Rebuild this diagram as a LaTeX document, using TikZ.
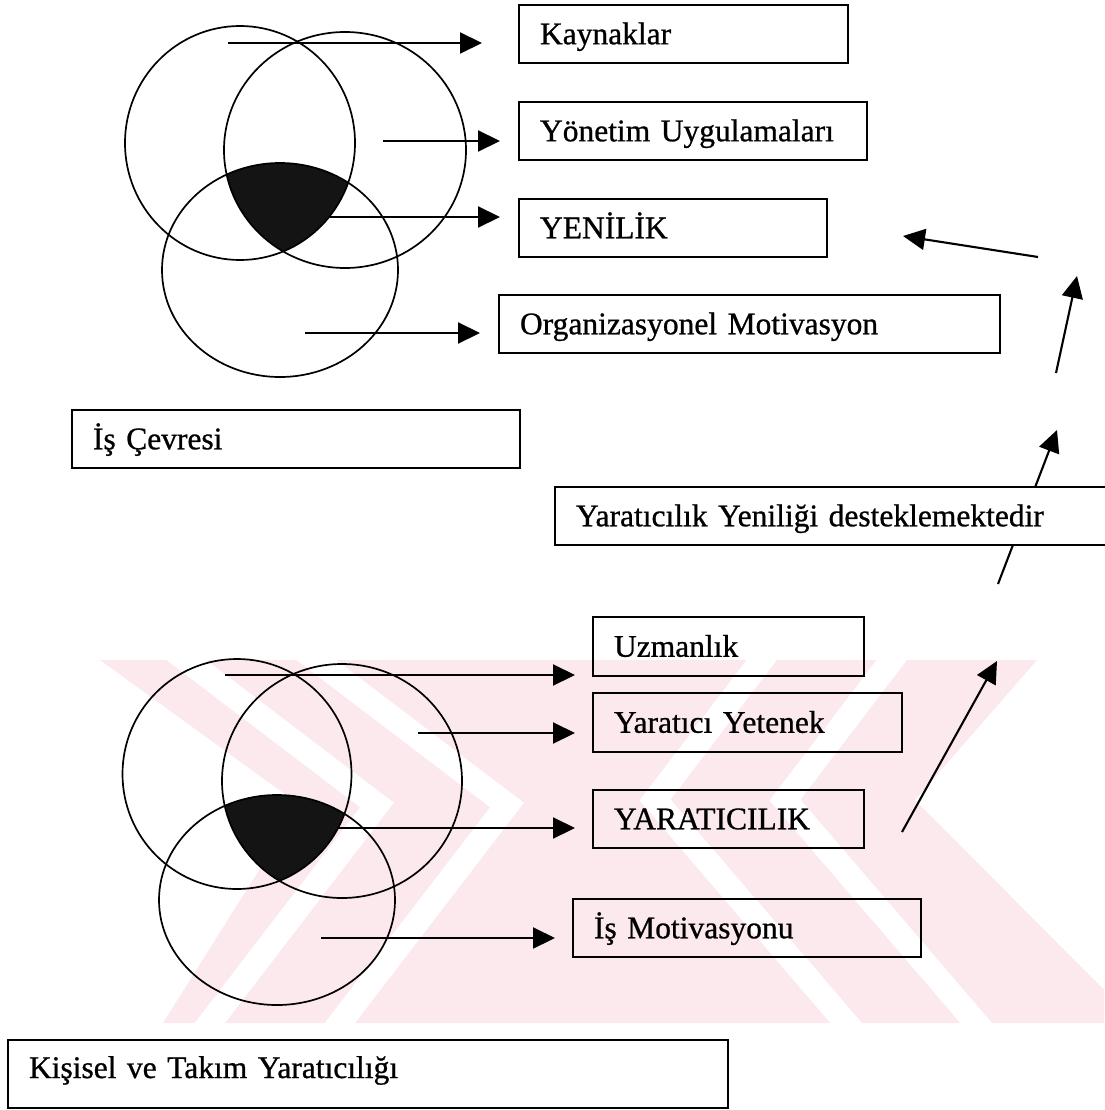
\documentclass[tikz,border=0pt]{standalone}
\usepackage{fontspec}
\setmainfont{Liberation Serif}[FakeBold=0.8]
\usetikzlibrary{arrows.meta}
\definecolor{wmpink}{RGB}{252,233,237}
\begin{document}
\begin{tikzpicture}[x=1pt,y=-1pt,
  every node/.style={outer sep=0pt},
  box/.style={draw=black, line width=1.9pt, anchor=north west,
    inner xsep=21pt, inner ysep=0pt, align=left,
    font=\fontsize{31.5}{38}\selectfont, text height=20.5pt, text depth=0pt},
  ring/.style={draw=black, line width=1.7pt},
  flow/.style={draw=black, line width=2.1pt, -{Triangle[length=22pt,width=21pt]}},
  core/.style={fill=black!92},
  gap/.style={draw=white, line width=24pt, line join=miter},
]
\useasboundingbox (0,0) rectangle (1104,1110);
\fill[white] (0,0) rectangle (1104,1110);

% faint striped background mark behind the lower group
\begin{scope}
  \clip (100,660) rectangle (1104,1023);
  \fill[wmpink] (100,660) -- (1037,660) -- (915,800) -- (1104,990) -- (1104,1023)
    -- (163,1023) -- (300,805) -- cycle;
  \draw[gap] (160,640) -- (377,805) -- (193,1045);
  \draw[gap] (290,640) -- (507,805) -- (323,1045);
  \draw[gap] (907,640) -- (785,800) -- (995,1045);
  \draw[gap] (777,640) -- (655,800) -- (865,1045);
\end{scope}

% ---------- upper group: three overlapping circles ----------
\begin{scope}
  \clip (240,143) ellipse [x radius=115, y radius=117];
  \clip (345,150) ellipse [x radius=121, y radius=118];
  \fill[core] (280,270) ellipse [x radius=118, y radius=107];
\end{scope}
\draw[ring] (240,143) ellipse [x radius=115, y radius=117];
\draw[ring] (345,150) ellipse [x radius=121, y radius=118];
\draw[ring] (280,270) ellipse [x radius=118, y radius=107];

% ---------- lower group: three overlapping circles ----------
\begin{scope}
  \clip (237,774) ellipse [x radius=114.5, y radius=115];
  \clip (342,781) ellipse [x radius=120, y radius=117];
  \fill[core] (277,900) ellipse [x radius=118, y radius=105];
\end{scope}
\draw[ring] (237,774) ellipse [x radius=114.5, y radius=115];
\draw[ring] (342,781) ellipse [x radius=120, y radius=117];
\draw[ring] (277,900) ellipse [x radius=118, y radius=105];

% ---------- arrow end points ----------
\coordinate (a1s) at (228,43);  \coordinate (a1e) at (482,43);
\coordinate (a2s) at (383,141); \coordinate (a2e) at (500,141);
\coordinate (a3s) at (330,217); \coordinate (a3e) at (500,217);
\coordinate (a4s) at (305,333); \coordinate (a4e) at (480,333);
\coordinate (b1s) at (225,675); \coordinate (b1e) at (575,675);
\coordinate (b2s) at (418,733); \coordinate (b2e) at (575,733);
\coordinate (b3s) at (338,828); \coordinate (b3e) at (575,828);
\coordinate (b4s) at (321,938); \coordinate (b4e) at (555,938);
\coordinate (d1s) at (998,584); \coordinate (d1e) at (1057,430);
\coordinate (d2s) at (1056,373); \coordinate (d2e) at (1077,276);
\coordinate (d3s) at (1038,257); \coordinate (d3e) at (903,236);
\coordinate (d4s) at (902,832); \coordinate (d4e) at (997,661);

\draw[flow] (a1s) -- (a1e);
\draw[flow] (a2s) -- (a2e);
\draw[flow] (a3s) -- (a3e);
\draw[flow] (a4s) -- (a4e);
\draw[flow] (b1s) -- (b1e);
\draw[flow] (b2s) -- (b2e);
\draw[flow] (b3s) -- (b3e);
\draw[flow] (b4s) -- (b4e);
\draw[flow] (d1s) -- (d1e);
\draw[flow] (d2s) -- (d2e);
\draw[flow] (d3s) -- (d3e);
\draw[flow] (d4s) -- (d4e);

% ---------- labelled boxes ----------
\node[box, text width=287pt, minimum height=58pt] (kay) at (519,5) {Kaynaklar};
\node[box, text width=306pt, minimum height=58pt] (yon) at (519,102) {Yönetim Uygulamaları};
\node[box, text width=266pt, minimum height=58pt] (yen) at (519,199) {YENİLİK};
\node[box, text width=459pt, minimum height=58pt] (org) at (499,295) {Organizasyonel Motivasyon};
\node[box, text width=406pt, minimum height=58pt] (isc) at (72,410) {İş Çevresi};
\node[box, fill=white, text width=518pt, minimum height=58pt] (yyd) at (555,487) {Yaratıcılık Yeniliği desteklemektedir};
\node[box, text width=229pt, minimum height=59pt] (uzm) at (593,617) {Uzmanlık};
\node[box, text width=267pt, minimum height=59pt] (yyt) at (593,693) {Yaratıcı Yetenek};
\node[box, text width=229pt, minimum height=58pt] (yar) at (593,790) {YARATICILIK};
\node[box, text width=306pt, minimum height=58pt] (ism) at (573,899) {İş Motivasyonu};
\node[box, text width=678pt, minimum height=68pt, text depth=12.5pt] (kis) at (8,1040) {Kişisel ve Takım Yaratıcılığı};
\end{tikzpicture}
\end{document}
